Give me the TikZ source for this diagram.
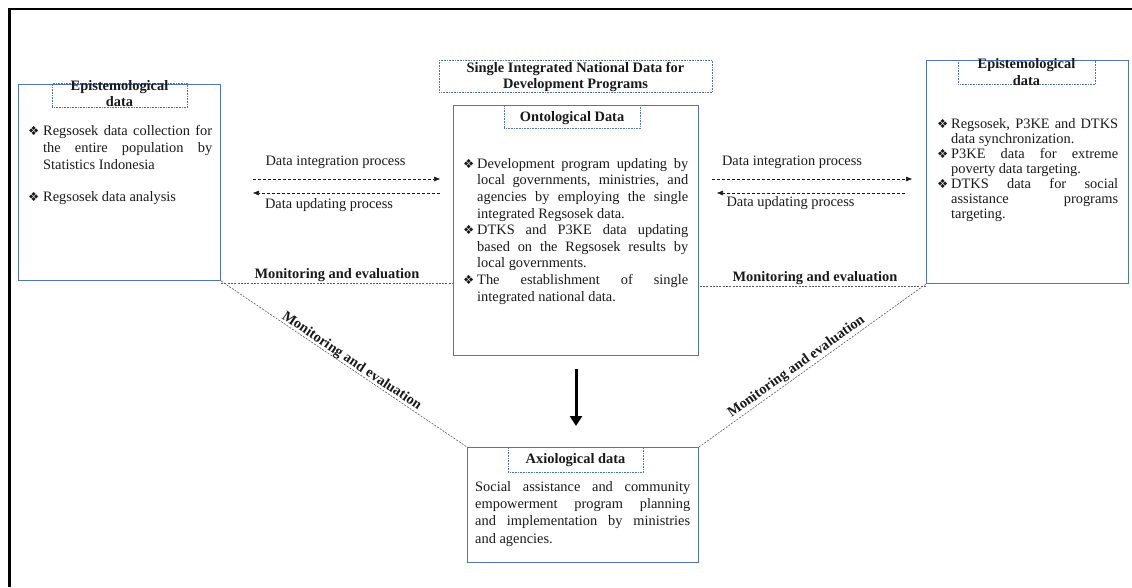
\documentclass[tikz,border=0pt]{standalone}
\usepackage{fontspec}
\setmainfont{Liberation Serif}
\newfontfamily\dejavu{DejaVu Sans}
\usetikzlibrary{arrows.meta}
\definecolor{boxblue}{RGB}{79,114,185}
\definecolor{ink}{RGB}{25,25,25}
\newcommand{\bulsym}{{\dejavu\fontsize{12.5}{12}\selectfont ❖}}
\newcommand{\bitem}[2][14pt]{\par\noindent\hangindent=#1\hangafter=1\makebox[#1][l]{\bulsym}#2\par}
\newcommand{\bodyfont}[1]{\fontsize{14.4}{#1}\selectfont\tolerance=10000\hbadness=10000\hyphenpenalty=10000}
\begin{document}
\begin{tikzpicture}[x=1pt,y=-1pt,
  box/.style={draw=boxblue,line width=1pt,inner sep=0pt,anchor=north west},
  tbox/.style={draw=boxblue,line width=0.7pt,dash pattern=on 0.8pt off 0.8pt,inner sep=0pt,anchor=north west},
  txt/.style={inner sep=0pt,anchor=base west,text=ink},
  ttl/.style={inner sep=0pt,anchor=base,text=ink},
  lbl/.style={inner sep=0pt,anchor=base,text=ink,font=\fontsize{14.4}{16}\selectfont},
  blbl/.style={lbl,font=\fontsize{14.4}{16}\selectfont\bfseries},
  flow/.style={draw=ink,line width=0.6pt,dash pattern=on 3pt off 2pt,-{Triangle[length=6pt,width=4.5pt]}},
  monline/.style={draw=gray!70!black,line width=0.6pt,dash pattern=on 2pt off 1.3pt},
  bigarrow/.style={draw=black,line width=3pt,-{Triangle[length=10pt,width=12pt]}}
]
\useasboundingbox (0,0) rectangle (1132,587);
% outer frame
\draw[line width=2.6pt,black] (9.5,587) -- (9.5,9) -- (1132,9);

% boxes
\node[box,minimum width=202pt,minimum height=196pt] (lbox) at (18,84) {};
\node[tbox,minimum width=135pt,minimum height=24pt] (ltitle) at (52,83) {};
\node[tbox,minimum width=273pt,minimum height=32pt] (head) at (439,60) {};
\node[box,minimum width=245pt,minimum height=250pt] (cbox) at (453,105) {};
\node[tbox,minimum width=136pt,minimum height=23pt] (ctitle) at (504,105) {};
\node[box,minimum width=202pt,minimum height=223pt] (rbox) at (926,60) {};
\node[tbox,minimum width=137pt,minimum height=24pt] (rtitle) at (958,60) {};
\node[box,minimum width=231pt,minimum height=115pt] (abox) at (467,447) {};
\node[tbox,minimum width=135pt,minimum height=25pt] (atitle) at (508,447) {};

% titles
\node[ttl] (ltitletxt) at (119.5,90.3) {\parbox[t]{150pt}{\centering\fontsize{14.4}{16}\selectfont\bfseries Epistemological\\data}};
\node[ttl] (headtxt) at (575.5,72.3) {\parbox[t]{290pt}{\centering\fontsize{14.4}{16}\selectfont\bfseries Single Integrated National Data for\\Development Programs}};
\node[ttl] (ctitletxt) at (572,121.3) {\fontsize{14.4}{16}\selectfont\bfseries Ontological Data};
\node[ttl] (rtitletxt) at (1026.5,68.3) {\parbox[t]{150pt}{\centering\fontsize{14.4}{17}\selectfont\bfseries Epistemological\\data}};
\node[ttl] (atitletxt) at (575.5,463.3) {\fontsize{14.4}{16}\selectfont\bfseries Axiological data};

% body texts
\node[txt] (ltext) at (28,135.3) {\parbox[t]{184pt}{\bodyfont{17}%
\bitem[15pt]{Regsosek data collection for\linebreak the entire population by\linebreak Statistics Indonesia}%
\vspace{15pt}%
\bitem[15pt]{Regsosek data analysis}}};

\node[txt] (ctext) at (463,168.3) {\parbox[t]{225pt}{\bodyfont{16.6}%
\bitem{Development program updating by\linebreak local governments, ministries, and\linebreak agencies by employing the single\linebreak integrated Regsosek data.}%
\bitem{DTKS and P3KE data updating\linebreak based on the Regsosek results by\linebreak local governments.}%
\bitem{The establishment of single\linebreak integrated national data.}}};

\node[txt] (rtext) at (937,128.3) {\parbox[t]{181pt}{\bodyfont{15}%
\bitem{Regsosek, P3KE and DTKS\linebreak data synchronization.}%
\bitem{P3KE data for extreme\linebreak poverty data targeting.}%
\bitem{DTKS data for social\linebreak assistance programs\linebreak targeting.}}};

\node[txt] (atext) at (475,491.3) {\parbox[t]{215pt}{\bodyfont{17.3}\noindent
Social assistance and community\linebreak empowerment program planning\linebreak and implementation by ministries\linebreak and agencies.}};

% flow arrows left
\coordinate (a1) at (253,179);
\coordinate (a2) at (440,179);
\coordinate (a3) at (440,193);
\coordinate (a4) at (253,193);
\draw[flow] (a1) -- (a2);
\draw[flow] (a3) -- (a4);
\node[lbl] (la1) at (335.5,165.3) {Data integration process};
\node[lbl] (la2) at (329,208.3) {Data updating process};

% flow arrows right
\coordinate (b1) at (712,179);
\coordinate (b2) at (912,179);
\coordinate (b3) at (905,193);
\coordinate (b4) at (717,193);
\draw[flow] (b1) -- (b2);
\draw[flow] (b3) -- (b4);
\node[lbl] (lb1) at (792,165.3) {Data integration process};
\node[lbl] (lb2) at (790.5,206.3) {Data updating process};

% monitoring lines
\draw[monline] ([yshift=-2pt]lbox.south east) -- ([yshift=-2pt]lbox.south east -| cbox.west);
\draw[monline] ([yshift=-2pt]rbox.south west) -- ([yshift=-2pt]rbox.south west -| cbox.east);
\draw[monline] (lbox.south east) -- (abox.north west);
\draw[monline] (abox.north east) -- (rbox.south west);
\node[blbl] (m1) at (337,278.3) {Monitoring and evaluation};
\node[blbl] (m2) at (815,281.3) {Monitoring and evaluation};
\node[blbl,anchor=center,rotate=-34] (m3) at (351.5,361.5) {Monitoring and evaluation};
\node[blbl,anchor=center,rotate=35.7] (m4) at (796.5,367) {Monitoring and evaluation};

% big arrow
\draw[bigarrow,shorten <=13pt,shorten >=21pt] (cbox.south) -- (cbox.south |- abox.north);
\end{tikzpicture}
\end{document}
